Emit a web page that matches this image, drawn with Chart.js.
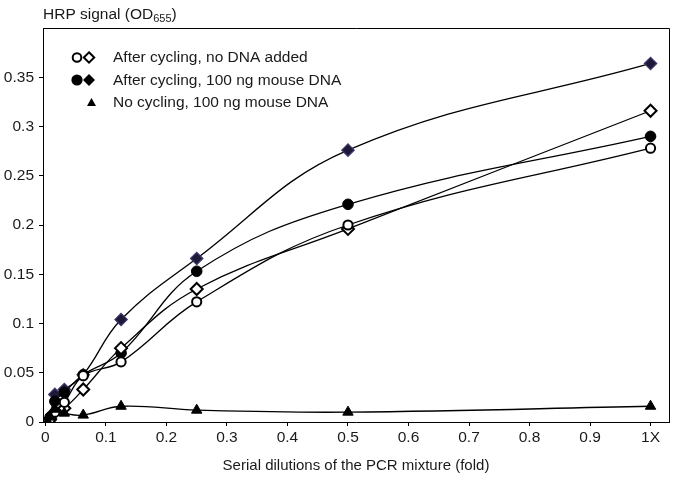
<!DOCTYPE html>
<html><head><meta charset="utf-8">
<script src="https://cdn.jsdelivr.net/npm/chart.js@4/dist/chart.umd.min.js"></script>
<style>html,body{margin:0;padding:0;background:#fff}#wrap{width:677px;height:477px}</style>
</head><body><div id="wrap"><canvas id="c" width="677" height="477"></canvas></div>
<script>
// ---- data ----
const dilutions = [0.0039, 0.0078, 0.0156, 0.03125, 0.0625, 0.125, 0.25, 0.5, 1];
const noDnaCircle   = [0.000, 0.003, 0.010, 0.020, 0.047, 0.061, 0.122, 0.200, 0.278];
const noDnaDiamond  = [0.000, 0.003, 0.010, 0.014, 0.033, 0.075, 0.135, 0.196, 0.316];
const mouseCircle   = [0.000, 0.005, 0.021, 0.030, 0.048, 0.070, 0.153, 0.221, 0.290];
const mouseDiamond  = [0.000, 0.002, 0.028, 0.033, 0.048, 0.104, 0.166, 0.276, 0.364];
const noCycling     = [0.000, 0.005, 0.013, 0.009, 0.007, 0.016, 0.012, 0.010, 0.016];

const xTicks = [0, 0.1, 0.2, 0.3, 0.4, 0.5, 0.6, 0.7, 0.8, 0.9, 1];
const xTickLabels = ['0', '0.1', '0.2', '0.3', '0.4', '0.5', '0.6', '0.7', '0.8', '0.9', '1X'];
const yTicks = [0, 0.05, 0.1, 0.15, 0.2, 0.25, 0.3, 0.35];
const yTickLabels = ['0', '0.05', '0.1', '0.15', '0.2', '0.25', '0.3', '0.35'];
const legendLabels = ['After cycling, no DNA added', 'After cycling, 100 ng mouse DNA', 'No cycling, 100 ng mouse DNA'];
const yTitleMain = 'HRP signal (OD';
const yTitleSub = '655';
const xTitle = 'Serial dilutions of the PCR mixture (fold)';

const FONT = '"Liberation Sans", Arial, sans-serif';
const TXT = '#1a1a1a';
const DIAMOND_FILL = '#1d1a38';
const DIAMOND_EDGE = '#3f3870';

function pts(ys) { return dilutions.map((x, i) => ({x, y: ys[i]})); }
function ds(label, ys, style, radius, bg, border, bw) {
  return {label, data: pts(ys), pointStyle: style, pointRadius: radius, pointHoverRadius: radius,
    pointBackgroundColor: bg, pointBorderColor: border, pointBorderWidth: bw,
    borderColor: '#000', borderWidth: 1.3, tension: 0.4, fill: false};
}
function lookup(ticks, labels, v) {
  const i = ticks.findIndex(t => Math.abs(t - v) < 1e-9);
  return i < 0 ? '' : labels[i];
}

function drawMarker(ctx, style, x, y, r, fill, stroke, lw) {
  ctx.save();
  ctx.beginPath();
  if (style === 'circle') ctx.arc(x, y, r, 0, Math.PI * 2);
  else if (style === 'diamond') { ctx.moveTo(x, y - r); ctx.lineTo(x + r, y); ctx.lineTo(x, y + r); ctx.lineTo(x - r, y); ctx.closePath(); }
  else if (style === 'triangle') { ctx.moveTo(x, y - r); ctx.lineTo(x + r * 0.9, y + r * 0.6); ctx.lineTo(x - r * 0.9, y + r * 0.6); ctx.closePath(); }
  ctx.fillStyle = fill; ctx.fill();
  if (lw > 0) { ctx.lineWidth = lw; ctx.strokeStyle = stroke; ctx.stroke(); }
  ctx.restore();
}

const decor = {
  id: 'decor',
  afterDraw(chart) {
    const ctx = chart.ctx, a = chart.chartArea;
    ctx.save();
    // top & right frame
    ctx.strokeStyle = '#000'; ctx.lineWidth = 1;
    ctx.beginPath();
    ctx.moveTo(a.left, Math.round(a.top) + 0.5); ctx.lineTo(Math.round(a.right) + 0.5, Math.round(a.top) + 0.5);
    ctx.lineTo(Math.round(a.right) + 0.5, a.bottom);
    ctx.stroke();
    // y title
    ctx.fillStyle = TXT; ctx.textBaseline = 'alphabetic'; ctx.textAlign = 'left';
    ctx.font = '15.5px ' + FONT;
    ctx.fillText(yTitleMain, 43, 19);
    const w = ctx.measureText(yTitleMain).width;
    ctx.font = '11px ' + FONT;
    ctx.fillText(yTitleSub, 43 + w, 22);
    const w2 = ctx.measureText(yTitleSub).width;
    ctx.font = '15.5px ' + FONT;
    ctx.fillText(')', 43 + w + w2, 19);
    // legend
    ctx.font = '15.5px ' + FONT;
    const rows = [62, 84.5, 107];
    drawMarker(ctx, 'circle', 77, rows[0] - 4.5, 4.3, '#fff', '#000', 2);
    drawMarker(ctx, 'diamond', 89, rows[0] - 4.5, 5.2, '#fff', '#000', 2);
    drawMarker(ctx, 'circle', 77, rows[1] - 4.5, 5.6, '#000', '#000', 0);
    drawMarker(ctx, 'diamond', 89, rows[1] - 4.5, 6, '#000', '#000', 0);
    drawMarker(ctx, 'triangle', 91.5, rows[2] - 4, 5, '#000', '#000', 0);
    legendLabels.forEach((t, i) => { ctx.fillStyle = TXT; ctx.fillText(t, 113, rows[i]); });
    ctx.restore();
  }
};

new Chart(document.getElementById('c'), {
  type: 'line',
  data: {
    datasets: [
      ds(legendLabels[2], noCycling, 'triangle', 6, '#000', '#000', 1),
      ds(legendLabels[0], noDnaCircle, 'circle', 4.6, '#fff', '#000', 2),
      ds(legendLabels[0], noDnaDiamond, 'rectRot', 6, '#fff', '#000', 2),
      ds(legendLabels[1], mouseCircle, 'circle', 5.3, '#000', '#000', 1),
      ds(legendLabels[1], mouseDiamond, 'rectRot', 6.2, DIAMOND_FILL, DIAMOND_EDGE, 1.2)
    ]
  },
  options: {
    responsive: false, animation: false, devicePixelRatio: 1,
    layout: {padding: {left: 0, top: 28, right: 7, bottom: 0}},
    plugins: {legend: {display: false}, tooltip: {enabled: false}, title: {display: false}},
    scales: {
      x: {
        type: 'linear', min: -0.004, max: 1.0305,
        afterBuildTicks: s => { s.ticks = xTicks.map(v => ({value: v})); },
        afterFit: s => { s.height = 55; },
        ticks: {callback: v => lookup(xTicks, xTickLabels, v), font: {family: FONT, size: 15.5}, color: TXT,
          padding: 2, maxRotation: 0, autoSkip: false},
        grid: {drawOnChartArea: false, drawTicks: true, tickLength: 4, color: '#000'},
        border: {display: true, color: '#000', width: 1},
        title: {display: true, text: xTitle, font: {family: FONT, size: 15}, color: TXT, padding: {top: 4, bottom: 2}}
      },
      y: {
        type: 'linear', min: 0, max: 0.4,
        afterBuildTicks: s => { s.ticks = yTicks.map(v => ({value: v})); },
        afterFit: s => { s.width = 43; },
        ticks: {callback: v => lookup(yTicks, yTickLabels, v), font: {family: FONT, size: 15.5}, color: TXT, padding: 5, autoSkip: false},
        grid: {drawOnChartArea: false, drawTicks: true, tickLength: 4, color: '#000'},
        border: {display: true, color: '#000', width: 1}
      }
    }
  },
  plugins: [decor]
});
</script>
</body></html>
